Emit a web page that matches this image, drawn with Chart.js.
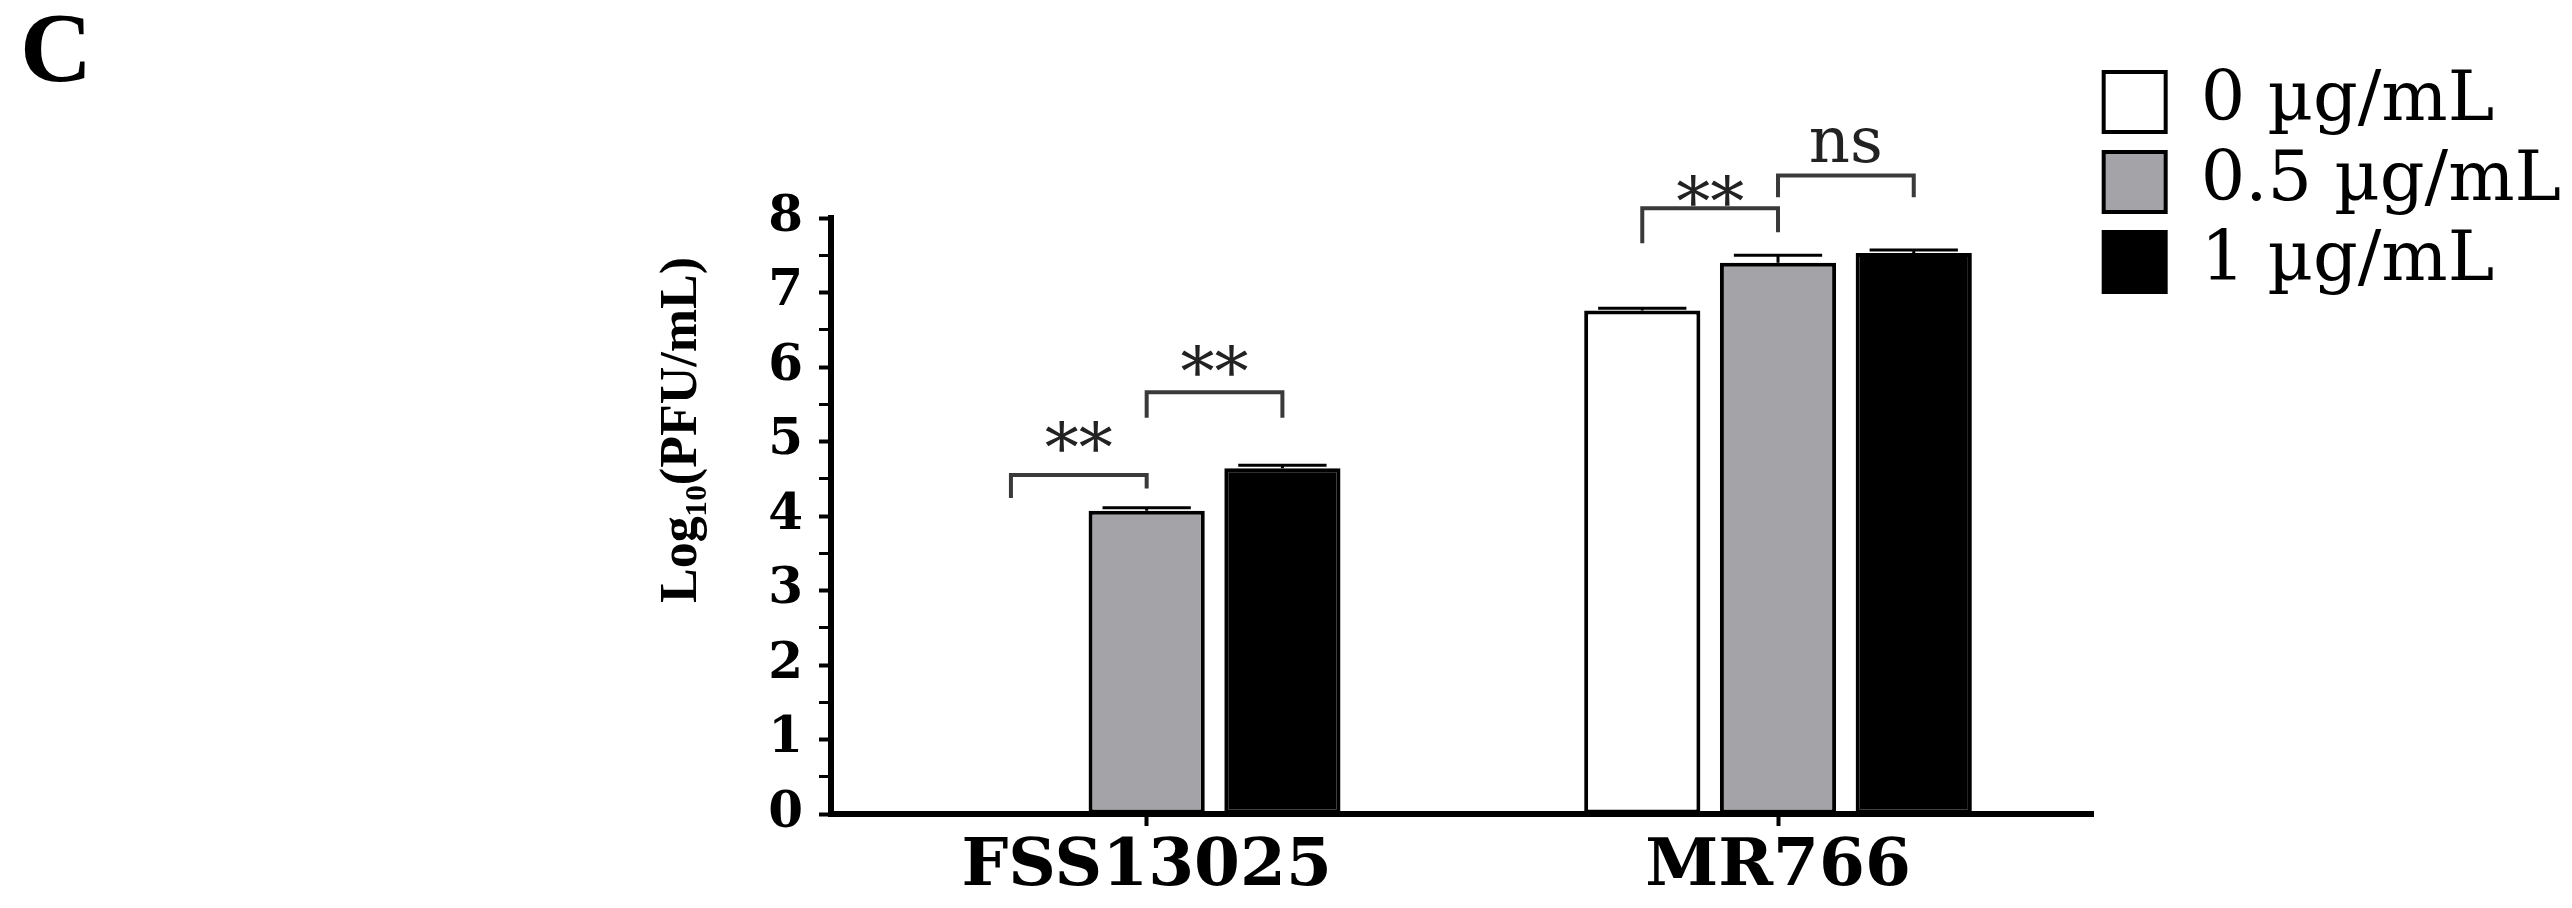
<!DOCTYPE html>
<html>
<head>
<meta charset="utf-8">
<script src="https://cdn.jsdelivr.net/npm/chart.js@4.4.1/dist/chart.umd.min.js"></script>
<style>
  html, body { margin: 0; padding: 0; background: #ffffff; }
  #wrap { position: relative; width: 2572px; height: 908px; }
</style>
</head>
<body>
<div id="wrap"><canvas id="c"></canvas></div>
<script>
// ---- data ----
const categories = ['FSS13025', 'MR766'];
const seriesLabels = ['0 µg/mL', '0.5 µg/mL', '1 µg/mL'];
const dose0 = [0, 6.76];
const dose05 = [4.07, 7.40];
const dose1 = [4.64, 7.53];
const err0 = [0, 0.03];
const err05 = [0.04, 0.10];
const err1 = [0.04, 0.04];
const yMin = 0;
const yMax = 8;
const yStep = 0.5;
// significance brackets (data units)
const sigCategory = [0, 0, 1, 1];
const sigFrom = [0, 1, 0, 1];
const sigTo = [1, 2, 1, 2];
const sigTop = [4.55, 5.66, 8.13, 8.57];
const sigLeftEnd = [4.24, 5.32, 7.66, 8.28];
const sigRightEnd = [4.37, 5.32, 7.81, 8.28];
const sigText = ['**', '**', '**', 'ns'];
const sigTextY = [5.11, 6.12, 8.41, 8.98];

const seriesValues = [dose0, dose05, dose1];
const seriesErrors = [err0, err05, err1];
const seriesFill = ['#ffffff', '#a4a3a8', '#000000'];

const overlayPlugin = {
  id: 'overlay',
  afterDatasetsDraw(chart) {
    const ctx = chart.ctx;
    const y = chart.scales.y;
    ctx.save();
    // error bars
    seriesErrors.forEach((errs, di) => {
      const meta = chart.getDatasetMeta(di);
      errs.forEach((e, ci) => {
        const v = seriesValues[di][ci];
        if (!e || !v) return;
        const bar = meta.data[ci];
        const y0 = y.getPixelForValue(v);
        const y1 = y.getPixelForValue(v + e);
        const half = bar.width * 0.38;
        ctx.strokeStyle = '#000';
        ctx.lineWidth = 3;
        ctx.beginPath();
        ctx.moveTo(bar.x, y0);
        ctx.lineTo(bar.x, y1);
        ctx.moveTo(bar.x - half, y1);
        ctx.lineTo(bar.x + half, y1);
        ctx.stroke();
      });
    });
    // brackets
    sigCategory.forEach((ci, k) => {
      const xa = chart.getDatasetMeta(sigFrom[k]).data[ci].x;
      const xb = chart.getDatasetMeta(sigTo[k]).data[ci].x;
      const yt = y.getPixelForValue(sigTop[k]);
      const yl = y.getPixelForValue(sigLeftEnd[k]);
      const yr = y.getPixelForValue(sigRightEnd[k]);
      ctx.strokeStyle = '#3a3a3a';
      ctx.lineWidth = 4;
      ctx.lineJoin = 'miter';
      ctx.beginPath();
      ctx.moveTo(xa, yl);
      ctx.lineTo(xa, yt);
      ctx.lineTo(xb, yt);
      ctx.lineTo(xb, yr);
      ctx.stroke();
      const isStar = sigText[k].indexOf('*') >= 0;
      const size = isStar ? 68 : 64;
      ctx.font = size + 'px "DejaVu Serif"';
      ctx.fillStyle = '#222';
      ctx.textAlign = 'center';
      ctx.textBaseline = 'alphabetic';
      const cy = y.getPixelForValue(sigTextY[k]);
      const base = cy + (isStar ? 0.55 : 0.26) * size;
      ctx.fillText(sigText[k], (xa + xb) / 2, base);
    });
    ctx.restore();
  }
};

new Chart(document.getElementById('c'), {
  type: 'bar',
  data: {
    labels: categories,
    datasets: seriesValues.map((vals, i) => ({
      label: seriesLabels[i],
      data: vals,
      backgroundColor: seriesFill[i],
      borderColor: '#000000',
      borderWidth: 4,
      borderSkipped: false,
      categoryPercentage: 0.645,
      barPercentage: 0.856
    }))
  },
  options: {
    responsive: true,
    maintainAspectRatio: false,
    animation: false,
    devicePixelRatio: 1,
    layout: { padding: { left: 20, right: 1, top: 0, bottom: 0 } },
    plugins: {
      title: {
        display: true,
        text: 'C',
        align: 'start',
        color: '#000',
        font: { family: '"Liberation Serif"', weight: 'bold', size: 100, lineHeight: 1 },
        padding: { top: 5, bottom: 113 }
      },
      legend: {
        display: true,
        position: 'right',
        align: 'start',
        title: { display: true, text: ' ', font: { size: 47, lineHeight: 1 }, padding: 5 },
        labels: {
          boxWidth: 62,
          boxHeight: 60,
          padding: 10,
          color: '#000',
          font: { family: '"DejaVu Serif"', size: 70, lineHeight: 1 }
        }
      },
      tooltip: { enabled: false }
    },
    scales: {
      x: {
        grid: { display: true, drawOnChartArea: false, offset: false, tickLength: 12, tickWidth: 4, tickColor: '#000' },
        border: { display: true, color: '#000', width: 6 },
        ticks: { color: '#000', padding: 2, font: { family: '"DejaVu Serif"', weight: 'bold', size: 66 } },
        afterFit(scale) { scale.height = 94; }
      },
      y: {
        min: yMin,
        max: yMax,
        grid: {
          display: true, drawOnChartArea: false, tickLength: 12, tickColor: '#000',
          tickWidth: (c) => (Number.isInteger(c.tick.value) ? 4 : 3)
        },
        border: { display: true, color: '#000', width: 6 },
        ticks: {
          stepSize: yStep,
          autoSkip: false,
          color: '#000',
          padding: 16,
          font: { family: '"DejaVu Serif"', weight: 'bold', size: 50 },
          callback: (v) => (Number.isInteger(v) ? String(v) : '')
        },
        title: {
          display: true,
          text: 'Log\u2081\u2080(PFU/mL)   ',
          align: 'end',
          color: '#000',
          font: { family: '"Liberation Serif"', weight: 'bold', size: 52, lineHeight: 1.2 },
          padding: { top: 631, bottom: 0 }
        },
        afterFit(scale) { scale.width = 811; }
      }
    }
  },
  plugins: [overlayPlugin]
});
</script>
</body>
</html>
